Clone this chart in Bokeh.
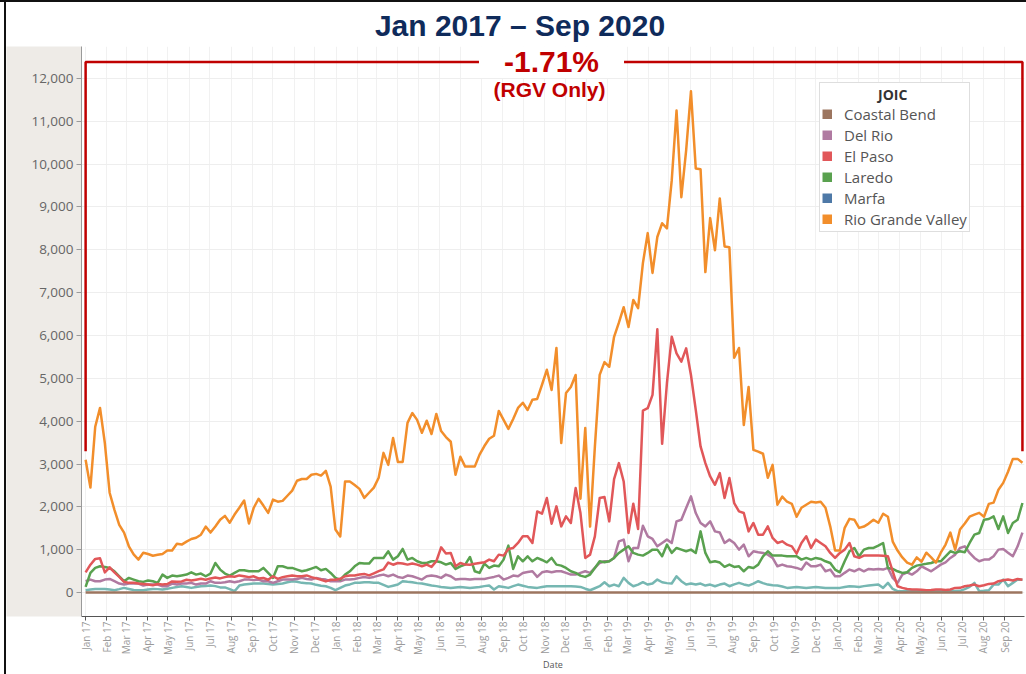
import pandas as pd
from math import pi
from bokeh.plotting import figure
from bokeh.layouts import row, column
from bokeh.models import (Range1d, Label, Legend, LegendItem, NumeralTickFormatter, Spacer,
                          SingleIntervalTicker, DatetimeTickFormatter, MonthsTicker)
from bokeh.embed import file_html
from bokeh.resources import INLINE

# ---------------- data (weekly, Jan 2017 - Sep 2020) ----------------
rio_grande_valley = [
    3100, 2450, 3870, 4310, 3490, 2330, 1930, 1580, 1400, 1080,
    890, 770, 930, 900, 860, 880, 900, 980, 980, 1140,
    1120, 1190, 1250, 1280, 1350, 1540, 1400, 1540, 1700, 1790,
    1630, 1820, 1980, 2150, 1610, 1980, 2190, 2030, 1860, 2170,
    2120, 2140, 2260, 2380, 2610, 2650, 2650, 2750, 2770, 2730,
    2840, 2470, 1470, 1310, 2590, 2590, 2510, 2420, 2210, 2330,
    2450, 2680, 3260, 2980, 3610, 3050, 3050, 3960, 4190, 4030,
    3730, 4010, 3700, 4170, 3770, 3630, 3520, 2750, 3170, 2940,
    2940, 2940, 3220, 3420, 3590, 3660, 4240, 4030, 3820, 4050,
    4310, 4430, 4260, 4500, 4520, 4850, 5200, 4730, 5710, 3490,
    4660, 4800, 5080, 2190, 3840, 1540, 3400, 5080, 5380, 5270,
    5970, 6300, 6660, 6200, 6830, 6640, 7690, 8390, 7460, 8300,
    8620, 8500, 9620, 11250, 9230, 10320, 11700, 9900, 9880, 7480,
    8740, 7990, 9200, 8080, 8060, 5480, 5710, 3910, 4800, 3330,
    3290, 3240, 2680, 2980, 2050, 2240, 2120, 2070, 1770, 1980,
    2050, 2120, 2100, 2120, 1980, 1540, 980, 980, 1510, 1720,
    1700, 1510, 1540, 1610, 1700, 1630, 1840, 1770, 1190, 980,
    820, 700, 650, 820, 720, 930, 820, 700, 930, 1120,
    1400, 1000, 1470, 1610, 1770, 1820, 1860, 1770, 2070, 2100,
    2400, 2560, 2820, 3120, 3120, 3030]

el_paso = [
    470, 650, 785, 800, 470, 590, 470, 365, 250, 226,
    230, 210, 200, 190, 170, 200, 190, 200, 260, 250,
    260, 300, 280, 300, 320, 300, 330, 350, 330, 360,
    380, 370, 400, 380, 360, 380, 330, 340, 300, 380,
    320, 360, 380, 400, 380, 380, 400, 360, 330, 300,
    260, 300, 300, 320, 380, 400, 400, 420, 435, 400,
    450, 500, 540, 700, 650, 690, 680, 652, 676, 652,
    613, 652, 598, 730, 1056, 909, 925, 613, 691, 652,
    650, 670, 690, 706, 769, 730, 885, 862, 1018, 1041,
    1157, 1312, 1312, 1157, 1894, 1840, 2206, 1608, 2011, 1545,
    1778, 1624, 2439, 1856, 808, 885, 1312, 2206, 2230, 1661,
    2649, 3021, 2593, 1391, 2074, 1484, 4248, 4303, 4613, 6144,
    3472, 4886, 5972, 5585, 5390, 5701, 5079, 4264, 3410, 3021,
    2710, 2516, 2788, 2206, 2672, 2090, 1894, 1856, 1428, 1624,
    1351, 1351, 1545, 1274, 1157, 1196, 1118, 1079, 909, 1157,
    1312, 1041, 1235, 1157, 1079, 925, 808, 925, 1002, 1157,
    847, 808, 862, 862, 862, 862, 860, 847, 497, 148,
    109, 85, 70, 70, 65, 54, 60, 70, 70, 60,
    70, 109, 110, 148, 163, 186, 148, 170, 202, 210,
    264, 287, 303, 280, 318, 300]

laredo = [
    132, 458, 575, 613, 598, 575, 497, 380, 264, 342,
    303, 264, 249, 280, 264, 226, 419, 342, 396, 380,
    400, 419, 473, 419, 443, 380, 443, 691, 536, 443,
    396, 458, 520, 520, 497, 497, 497, 575, 458, 342,
    613, 613, 575, 575, 536, 497, 520, 560, 598, 520,
    552, 458, 342, 303, 419, 497, 613, 691, 676, 676,
    808, 808, 808, 963, 769, 847, 1018, 769, 808, 730,
    691, 691, 730, 730, 706, 652, 691, 552, 613, 652,
    831, 497, 458, 676, 575, 629, 613, 769, 1095, 552,
    847, 730, 847, 730, 808, 760, 706, 808, 652, 629,
    575, 497, 458, 396, 365, 419, 575, 730, 706, 730,
    808, 925, 1002, 1079, 925, 885, 862, 925, 1002, 1002,
    847, 1118, 925, 1041, 1002, 963, 1002, 925, 1428, 925,
    706, 730, 700, 600, 652, 598, 613, 497, 598, 575,
    652, 847, 963, 862, 862, 862, 847, 847, 847, 769,
    808, 769, 808, 785, 730, 691, 536, 473, 730, 963,
    1041, 847, 1002, 1041, 1041, 1095, 1157, 575, 552, 497,
    458, 473, 575, 629, 652, 670, 691, 730, 730, 847,
    963, 925, 963, 940, 1157, 1351, 1391, 1700, 1717, 1778,
    1484, 1778, 1391, 1624, 1700, 2090]

del_rio = [
    264, 303, 264, 264, 303, 318, 264, 210, 186, 210,
    210, 210, 163, 186, 186, 186, 148, 148, 210, 186,
    210, 210, 226, 186, 210, 210, 264, 226, 226, 241,
    264, 241, 264, 303, 303, 290, 303, 264, 264, 226,
    264, 303, 303, 303, 318, 342, 318, 303, 342, 318,
    303, 264, 264, 264, 303, 303, 318, 342, 365, 342,
    365, 396, 419, 380, 419, 365, 342, 396, 380, 342,
    303, 380, 396, 380, 342, 419, 380, 303, 318, 318,
    303, 318, 318, 318, 342, 365, 396, 303, 342, 396,
    380, 458, 480, 497, 365, 473, 497, 473, 497, 497,
    458, 419, 419, 458, 497, 458, 575, 691, 730, 730,
    808, 1196, 1235, 730, 1041, 1041, 1561, 1312, 1251, 1079,
    1157, 1235, 1157, 1661, 1700, 1973, 2244, 1856, 1624, 1545,
    1661, 1428, 1400, 1157, 1235, 1157, 1002, 1118, 847, 963,
    940, 925, 885, 808, 613, 652, 613, 600, 575, 536,
    700, 613, 613, 652, 497, 536, 380, 380, 460, 536,
    497, 552, 497, 552, 536, 552, 536, 575, 342, 226,
    419, 473, 419, 497, 613, 552, 497, 575, 652, 706,
    808, 885, 1041, 1079, 925, 808, 730, 769, 769, 847,
    1002, 1018, 930, 847, 1079, 1400]

# teal series (its legend entry is not visible in the reference)
unlisted_joic = [
    54, 70, 85, 85, 85, 70, 54, 80, 109, 85,
    60, 55, 54, 70, 85, 80, 70, 90, 109, 130,
    148, 130, 109, 130, 148, 155, 163, 150, 120, 120,
    80, 31, 163, 186, 200, 210, 210, 210, 200, 186,
    200, 210, 240, 264, 250, 226, 220, 210, 180, 160,
    148, 109, 54, 109, 163, 190, 226, 230, 241, 241,
    230, 226, 180, 132, 160, 186, 264, 250, 241, 220,
    210, 190, 163, 150, 132, 120, 109, 120, 132, 120,
    109, 120, 132, 150, 163, 70, 148, 130, 109, 150,
    186, 160, 132, 120, 109, 130, 148, 148, 148, 148,
    148, 148, 140, 132, 90, 54, 100, 148, 241, 148,
    186, 148, 342, 226, 148, 186, 241, 186, 210, 303,
    241, 220, 210, 380, 264, 186, 210, 186, 210, 163,
    186, 148, 186, 210, 148, 190, 226, 190, 163, 210,
    264, 220, 186, 170, 163, 140, 109, 120, 132, 120,
    109, 120, 132, 120, 109, 109, 109, 109, 130, 148,
    140, 132, 150, 163, 175, 186, 109, 226, 85, 31,
    31, 31, 31, 35, 31, 31, 30, 31, 31, 35,
    31, 35, 40, 80, 132, 226, 31, 40, 54, 186,
    186, 303, 148, 226, 303, 300]

coastal_bend = [
    0, 0, 0, 0, 0, 0, 0, 0, 0, 0, 0, 0, 0, 0, 0, 0, 0, 0, 0, 0,
    0, 0, 0, 0, 0, 0, 0, 0, 0, 0, 0, 0, 0, 0, 0, 0, 0, 0, 0, 0,
    0, 0, 0, 0, 0, 0, 0, 0, 0, 0, 0, 0, 0, 0, 0, 0, 0, 0, 0, 0,
    0, 0, 0, 0, 0, 0, 0, 0, 0, 0, 0, 0, 0, 0, 0, 0, 0, 0, 0, 0,
    0, 0, 0, 0, 0, 0, 0, 0, 0, 0, 0, 0, 0, 0, 0, 0, 0, 0, 0, 0,
    0, 0, 0, 0, 0, 0, 0, 0, 0, 0, 0, 0, 0, 0, 0, 0, 0, 0, 0, 0,
    0, 0, 0, 0, 0, 0, 0, 0, 0, 0, 0, 0, 0, 0, 0, 0, 0, 0, 0, 0,
    0, 0, 0, 0, 0, 0, 0, 0, 0, 0, 0, 0, 0, 0, 0, 0, 0, 0, 0, 0,
    0, 0, 0, 0, 0, 0, 0, 0, 0, 0, 0, 0, 0, 0, 0, 0, 0, 0, 0, 0,
    0, 0, 0, 0, 0, 0, 0, 0, 0, 0, 0, 0, 0, 0, 0, 0]

legend_names = ["Coastal Bend", "Del Rio", "El Paso", "Laredo", "Marfa", "Rio Grande Valley"]
legend_colors = ["#9C755F", "#B07AA1", "#E15759", "#59A14F", "#4E79A7", "#F28E2B"]
teal_color = "#76B7B2"

title_text = "Jan 2017 \u2013 Sep 2020"
change_text = "-1.71%"
change_note = "(RGV Only)"

weeks = pd.date_range("2017-01-01", periods=len(rio_grande_valley), freq="7D")

# ---------------- figure ----------------
BRACKET_TOP = 12383
BRACKET_LOW = 3300
RED = "#C00000"
FONT = "Open Sans"
FRAME_BOTTOM = 617   # page y of the plot frame bottom (for screen-unit annotations)

p = figure(width=1020, height=672, x_axis_type="datetime",
           output_backend="svg", toolbar_location=None,
           x_range=Range1d(pd.Timestamp("2016-12-26"), pd.Timestamp("2020-09-30")),
           y_range=Range1d(-559, 12746),
           min_border_left=74, min_border_right=2, min_border_top=44, min_border_bottom=54)
p.outline_line_color = None
p.background_fill_color = "white"
p.border_fill_color = "white"

# title (trailing em spaces shift the centred text slightly left, as in the reference)
p.title.text = title_text + "\u2003\u2003\u2009"
p.title.align = "center"
p.title.vertical_align = "middle"
p.title.text_font = "Liberation Sans"
p.title.text_font_style = "bold"
p.title.text_font_size = "30px"
p.title.text_color = "#0F2B5B"
p.title.standoff = 8

# axes
p.yaxis.ticker = SingleIntervalTicker(interval=1000, num_minor_ticks=0)
p.yaxis.formatter = NumeralTickFormatter(format="0,0")
p.yaxis.major_label_text_font = FONT
p.yaxis.major_label_text_font_size = "13.5px"
p.yaxis.major_label_text_color = "#666666"
p.yaxis.axis_line_color = "#9A9A9A"
p.yaxis.major_tick_line_color = "#9A9A9A"
p.yaxis.major_tick_out = 5
p.yaxis.major_tick_in = 0
p.yaxis.minor_tick_line_color = None
p.yaxis.major_label_standoff = 3
p.yaxis.axis_label = "\u2003"
p.yaxis.axis_label_text_font_size = "13px"
p.yaxis.axis_label_standoff = 4
p.yaxis.background_fill_color = "#EEEBE7"

month_ticker = MonthsTicker(months=list(range(12)))
p.xaxis.ticker = month_ticker
p.xaxis.formatter = DatetimeTickFormatter(months="%b %y", days="%b %y", years="%b %y")
p.xaxis.major_label_orientation = pi / 2
p.xaxis.major_label_text_font = FONT
p.xaxis.major_label_text_font_size = "10px"
p.xaxis.major_label_text_color = "#9A9A9A"
p.xaxis.axis_line_color = "#555555"
p.xaxis.major_tick_line_color = "#555555"
p.xaxis.major_tick_out = 4
p.xaxis.major_tick_in = 0
p.xaxis.minor_tick_line_color = None
p.xaxis.major_label_standoff = 1
p.xaxis.axis_label = "Date"
p.xaxis.axis_label_text_font = FONT
p.xaxis.axis_label_text_font_size = "9px"
p.xaxis.axis_label_text_font_style = "normal"
p.xaxis.axis_label_text_color = "#555555"
p.xaxis.axis_label_standoff = 0

p.xgrid.ticker = month_ticker
p.xgrid.grid_line_color = "#F1F1F1"
p.ygrid.grid_line_color = "#EEEEEE"

# lines
lw = 2.5
p.line(weeks, unlisted_joic, line_color=teal_color, line_width=lw, line_join="round")
p.line(weeks, del_rio, line_color=legend_colors[1], line_width=lw, line_join="round")
p.line(weeks, laredo, line_color=legend_colors[3], line_width=lw, line_join="round")
p.line(weeks, el_paso, line_color=legend_colors[2], line_width=lw, line_join="round")
p.line(weeks, rio_grande_valley, line_color=legend_colors[5], line_width=lw, line_join="round")
p.line(weeks, coastal_bend, line_color=legend_colors[0], line_width=lw, line_join="round")

# red bracket
p.line([weeks[0], weeks[0], weeks[-1], weeks[-1]],
       [BRACKET_LOW, BRACKET_TOP, BRACKET_TOP, BRACKET_LOW],
       line_color=RED, line_width=2.5)

# legend with square swatches (thick, short line swatches on renderers with no visible point)
items = []
for name, col in zip(legend_names, legend_colors):
    r = p.line(x=[weeks[0]], y=[float("nan")], line_color=col, line_width=10, line_cap="butt")
    items.append(LegendItem(label=name, renderers=[r]))
legend = Legend(items=items, location=(738, FRAME_BOTTOM - 233),
                title="\u2003\u2003\u2003\u2003JOIC",
                title_text_font=FONT, title_text_font_size="14px",
                title_text_font_style="bold", title_text_color="#333333",
                title_standoff=0,
                label_text_font=FONT, label_text_font_size="15px",
                label_text_color="#555555",
                glyph_width=10, glyph_height=10, label_height=20,
                label_standoff=12, spacing=1, padding=2, margin=0,
                border_line_color="#BDBDBD", border_line_width=1,
                background_fill_color="white", background_fill_alpha=1)
p.add_layout(legend)

# red annotation texts
p.add_layout(Label(x=470, y=FRAME_BOTTOM - 62, x_units="screen", y_units="screen",
                   text=change_text, text_align="center", text_baseline="middle",
                   text_font="Liberation Sans", text_font_style="bold",
                   text_font_size="30px", text_color=RED,
                   background_fill_color="white", padding=(25, 0)))
p.add_layout(Label(x=468, y=FRAME_BOTTOM - 90, x_units="screen", y_units="screen",
                   text=change_note, text_align="center", text_baseline="middle",
                   text_font="Liberation Sans", text_font_style="bold",
                   text_font_size="21px", text_color=RED))

# slide frame lines (black rule on the left and on top)
top_rule = Spacer(width=1026, height=2, styles={"background-color": "#111111"})
left_gap = Spacer(width=4, height=672)
left_rule = Spacer(width=2, height=672, styles={"background-color": "#111111"})
page = column(top_rule, row(left_gap, left_rule, p, spacing=0), spacing=0,
              styles={"vertical-align": "top"})

open("out.html", "w").write(file_html(page, INLINE))
